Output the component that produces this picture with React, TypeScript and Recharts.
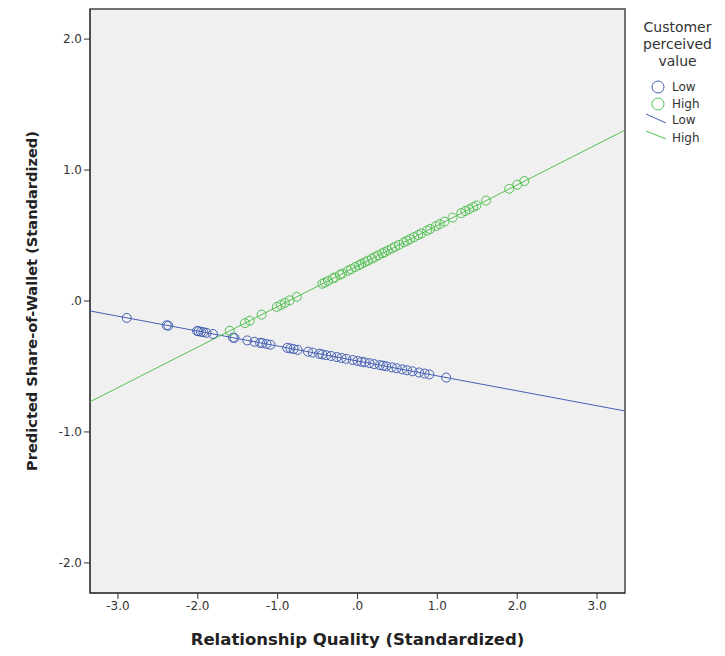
import { ScatterChart, Scatter, XAxis, YAxis, ReferenceArea } from 'recharts'

const X_TICKS = [-3, -2, -1, 0, 1, 2, 3]
const Y_TICKS = [-2, -1, 0, 1, 2]

// predicted values, low customer perceived value
const lowX = [
	-2.89, -2.39, -2.37, -2.01, -1.99, -1.96, -1.93, -1.89, -1.81, -1.56, -1.54, -1.38, -1.29, -1.22,
	-1.19, -1.14, -1.09, -0.88, -0.84, -0.8, -0.75, -0.62, -0.56, -0.48, -0.44, -0.39, -0.33, -0.26,
	-0.2, -0.14, -0.06, 0.0, 0.05, 0.09, 0.15, 0.21, 0.28, 0.32, 0.36, 0.43, 0.49, 0.56, 0.62, 0.69,
	0.77, 0.84, 0.9, 1.11,
]
const lowY = [
	-0.129, -0.186, -0.188, -0.229, -0.231, -0.235, -0.238, -0.243, -0.252, -0.28, -0.282, -0.301,
	-0.311, -0.319, -0.322, -0.328, -0.334, -0.358, -0.362, -0.367, -0.373, -0.387, -0.394, -0.403,
	-0.408, -0.414, -0.42, -0.428, -0.435, -0.442, -0.451, -0.458, -0.464, -0.468, -0.475, -0.482,
	-0.49, -0.494, -0.499, -0.507, -0.514, -0.522, -0.529, -0.537, -0.546, -0.554, -0.561, -0.585,
]

// predicted values, high customer perceived value
const highX = [
	-1.6, -1.41, -1.35, -1.2, -1.01, -0.96, -0.91, -0.85, -0.76, -0.44, -0.41, -0.37, -0.31, -0.28,
	-0.22, -0.19, -0.12, -0.08, -0.03, 0.02, 0.05, 0.09, 0.13, 0.18, 0.22, 0.26, 0.31, 0.34, 0.38,
	0.43, 0.47, 0.52, 0.58, 0.62, 0.66, 0.71, 0.76, 0.8, 0.87, 0.91, 0.98, 1.03, 1.09, 1.19, 1.3, 1.35,
	1.4, 1.45, 1.49, 1.61, 1.9, 2.0, 2.09,
]
const highY = [
	-0.228, -0.169, -0.151, -0.104, -0.045, -0.03, -0.014, 0.005, 0.032, 0.132, 0.141, 0.153, 0.172,
	0.181, 0.2, 0.209, 0.231, 0.243, 0.259, 0.274, 0.284, 0.296, 0.308, 0.324, 0.336, 0.349, 0.364,
	0.373, 0.386, 0.401, 0.414, 0.429, 0.448, 0.46, 0.473, 0.488, 0.504, 0.516, 0.538, 0.55, 0.572,
	0.587, 0.606, 0.637, 0.671, 0.687, 0.702, 0.718, 0.73, 0.767, 0.857, 0.888, 0.916,
]

// fit line end points at the plot edges
const lowFitX = [-3.35, 3.35]
const lowFitY = [-0.076, -0.84]
const highFitX = [-3.35, 3.35]
const highFitY = [-0.77, 1.305]

const X_DOMAIN = [-3.35, 3.35]
const Y_DOMAIN = [-2.23, 2.23]

const BLUE = '#4460b5'
const GREEN = '#52c152'
const FONT = '"DejaVu Sans", Verdana, sans-serif'

const zip = (xs: number[], ys: number[]) => xs.map((x, i) => ({ x, y: ys[i] }))

const fmt = (v: number) => (v === 0 ? '.0' : v.toFixed(1))

function Ring(props: any) {
	const { cx, cy, stroke } = props
	return <circle cx={cx} cy={cy} r={4.5} fill='none' stroke={stroke} strokeWidth={1} />
}

const Nothing = () => <g />

function LegendBox() {
	return (
		<div
			style={{
				position: 'absolute',
				left: 630,
				top: 19,
				width: 95,
				fontFamily: FONT,
				color: '#333',
			}}
		>
			<div style={{ textAlign: 'center', fontSize: 14, lineHeight: '17px' }}>
				Customer
				<br />
				perceived
				<br />
				value
			</div>
			<svg width={95} height={72} style={{ display: 'block', marginTop: 7 }}>
				<circle cx={28} cy={10} r={6} fill='none' stroke={BLUE} />
				<text x={42} y={14} fontSize={12} fill='#333'>Low</text>
				<circle cx={28} cy={27} r={6} fill='none' stroke={GREEN} />
				<text x={42} y={31} fontSize={12} fill='#333'>High</text>
				<line x1={16} y1={37} x2={36} y2={46} stroke={BLUE} />
				<text x={42} y={47} fontSize={12} fill='#333'>Low</text>
				<line x1={16} y1={54} x2={36} y2={62} stroke={GREEN} />
				<text x={42} y={65} fontSize={12} fill='#333'>High</text>
			</svg>
		</div>
	)
}

export default function App() {
	const tick = { fill: '#333', fontSize: 12, fontFamily: FONT }
	return (
		<div style={{ position: 'absolute', left: 0, top: 0, width: 725, height: 656, background: '#fff' }}>
			<ScatterChart width={725} height={656} margin={{ top: 9, right: 100, bottom: 0, left: 0 }}>
				<ReferenceArea
					x1={X_DOMAIN[0]}
					x2={X_DOMAIN[1]}
					y1={Y_DOMAIN[0]}
					y2={Y_DOMAIN[1]}
					fill='#f0f0f0'
					fillOpacity={1}
					stroke='#444'
					strokeWidth={1.5}
				/>
				<XAxis
					type='number'
					dataKey='x'
					domain={X_DOMAIN}
					ticks={X_TICKS}
					tickFormatter={fmt}
					allowDataOverflow
					height={63}
					tickSize={6}
					tick={tick}
					stroke='#333'
					label={{
						value: 'Relationship Quality (Standardized)',
						position: 'insideBottom',
						offset: 11,
						style: { fontFamily: FONT, fontSize: 16.5, fontWeight: 'bold', fill: '#222' },
					}}
				/>
				<YAxis
					type='number'
					dataKey='y'
					domain={Y_DOMAIN}
					ticks={Y_TICKS}
					tickFormatter={fmt}
					allowDataOverflow
					width={90}
					tickSize={6}
					tick={tick}
					stroke='#333'
					label={{
						value: 'Predicted Share-of-Wallet (Standardized)',
						angle: -90,
						position: 'insideLeft',
						offset: 32,
						style: {
							fontFamily: FONT,
							fontSize: 14.6,
							fontWeight: 'bold',
							fill: '#222',
							textAnchor: 'middle',
						},
					}}
				/>
				<Scatter
					data={zip(lowFitX, lowFitY)}
					line={{ stroke: BLUE, strokeWidth: 1 }}
					shape={Nothing}
					isAnimationActive={false}
				/>
				<Scatter
					data={zip(highFitX, highFitY)}
					line={{ stroke: GREEN, strokeWidth: 1 }}
					shape={Nothing}
					isAnimationActive={false}
				/>
				<Scatter data={zip(lowX, lowY)} stroke={BLUE} shape={Ring} isAnimationActive={false} />
				<Scatter data={zip(highX, highY)} stroke={GREEN} shape={Ring} isAnimationActive={false} />
			</ScatterChart>
			<LegendBox />
		</div>
	)
}
